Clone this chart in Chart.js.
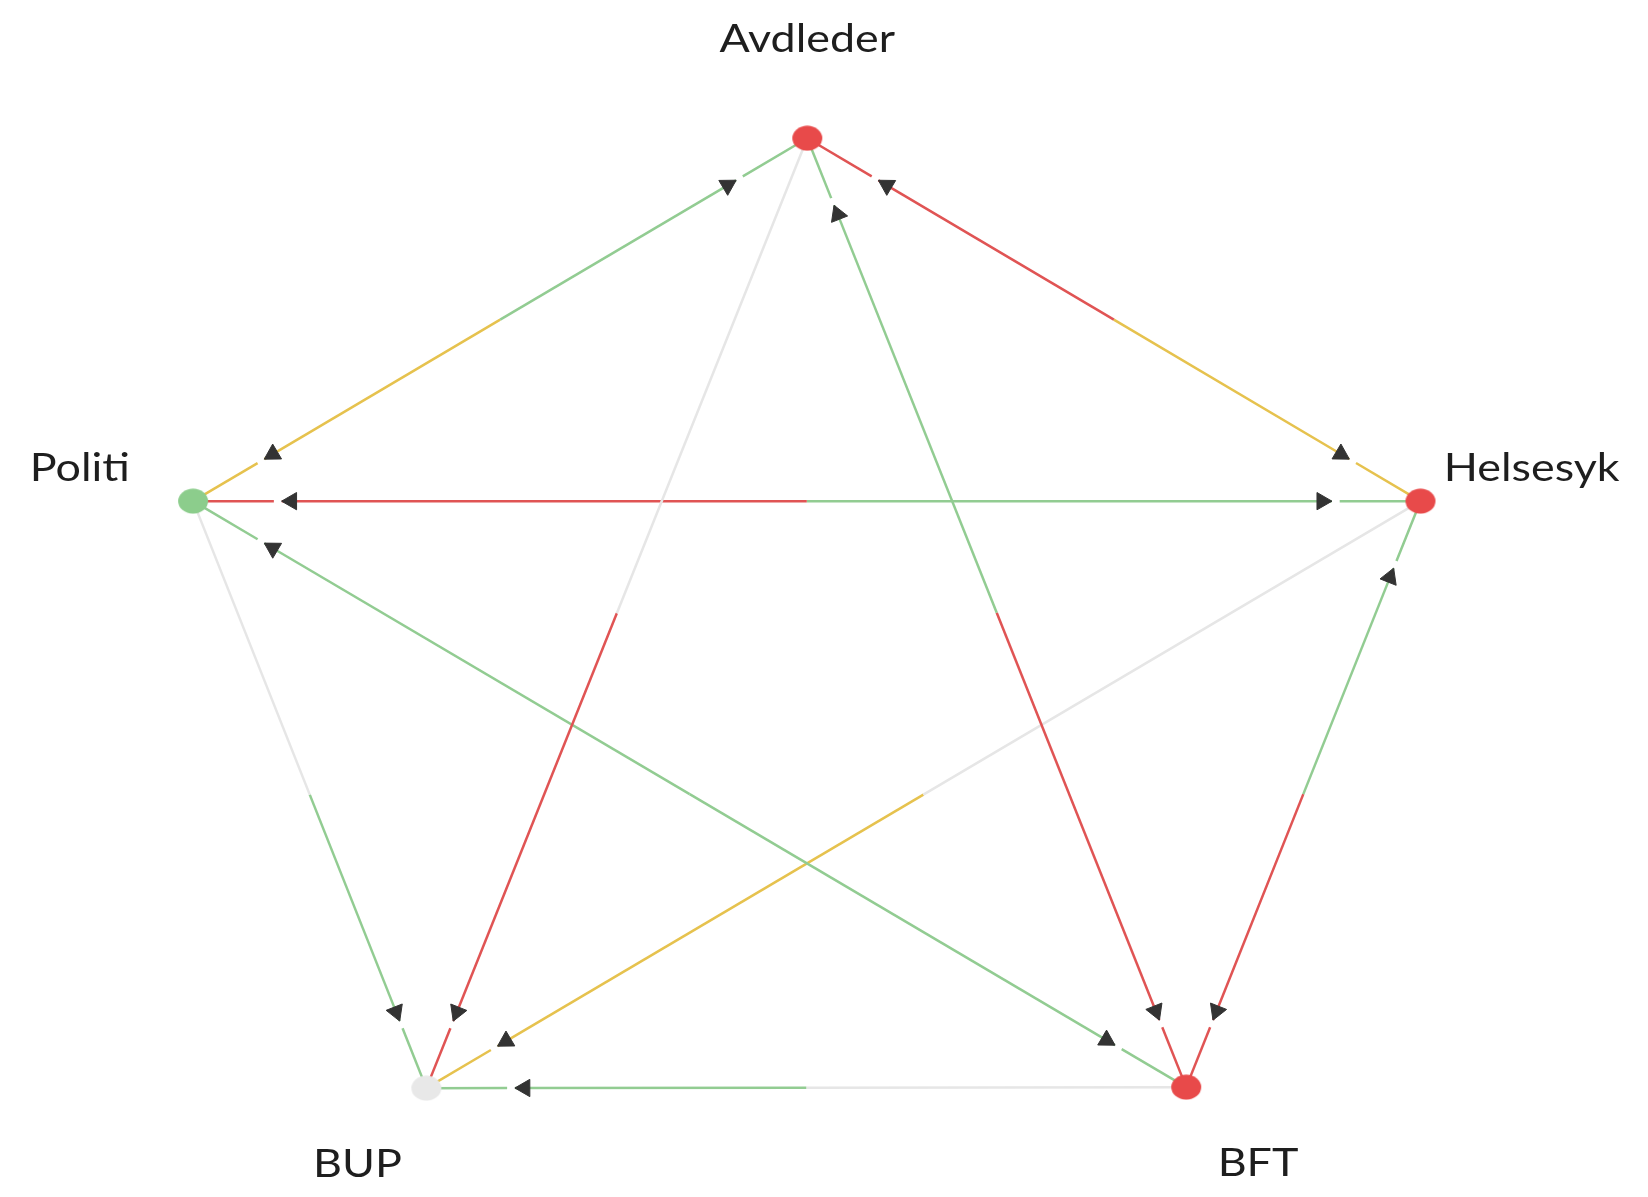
<!DOCTYPE html>
<html lang="no">
<head>
<meta charset="utf-8">
<script src="https://cdn.jsdelivr.net/npm/chart.js@4.4.0/dist/chart.umd.min.js"></script>
<style>
  html, body { margin: 0; padding: 0; background: #fff; }
  .wrap { width: 1648px; height: 1197px; position: relative; }
</style>
</head>
<body>
<div class="wrap"><canvas id="net"></canvas></div>
<script>
// nodes, in plot units (x/y scales run 0..1648 / 0..1197, y downward)
const nodeNames = ['Avdleder', 'Politi', 'Helsesyk', 'BUP', 'BFT'];
const nodeX = [807, 183, 1430, 420, 1192];
const nodeY = [128, 499, 499, 1099, 1098];
const nodeLevel = ['red', 'green', 'red', 'none', 'red'];

// edges: each pair is split in the middle, each half coloured by the link going into that end
const edgeFrom = ['Avdleder', 'Avdleder', 'Avdleder', 'Avdleder', 'Politi', 'Politi', 'Politi', 'Helsesyk', 'Helsesyk', 'BUP'];
const edgeTo = ['Politi', 'Helsesyk', 'BUP', 'BFT', 'Helsesyk', 'BUP', 'BFT', 'BUP', 'BFT', 'BFT'];
const levelAtFrom = ['green', 'red', 'none', 'green', 'red', 'none', 'green', 'none', 'green', 'green'];
const levelAtTo = ['yellow', 'yellow', 'red', 'red', 'green', 'green', 'green', 'yellow', 'red', 'none'];

const lineColors = { green: '#92cc92', yellow: '#e6c24e', red: '#e05454', none: '#e6e6e6' };
const nodeColors = { green: '#8ccd8c', red: '#e84a4a', none: '#e8e8e8' };

const ARROW_DIST = 82, STRETCH = 1.22, ARROW_R = 10, GAP = 8;

const datasets = [];
const arrowPts = [], arrowRot = [];

function idx(name) { return nodeNames.indexOf(name); }

// half edge from node a towards the middle of a-b
function addHalf(a, b, level) {
  const ax = nodeX[a], ay = nodeY[a];
  const dx = nodeX[b] - ax, dy = nodeY[b] - ay;
  const len = Math.hypot(dx, dy);
  const ux = dx / len, uy = dy / len;
  const mid = { x: ax + dx / 2, y: ay + dy / 2 };
  const seg = (pts) => datasets.push({
    type: 'scatter', showLine: true, data: pts, borderColor: lineColors[level],
    borderWidth: 2.5, pointRadius: 0, order: 3
  });
  if (level === 'none') {
    seg([{ x: ax, y: ay }, mid]);
    return;
  }
  const D = ARROW_DIST * len / Math.hypot(dx / STRETCH, dy);
  const at = (t) => ({ x: ax + ux * t, y: ay + uy * t });
  seg([{ x: ax, y: ay }, at(D - ARROW_R - GAP)]);
  seg([at(D - ARROW_R), mid]);
  arrowPts.push(at(D));
  arrowRot.push(Math.atan2(-ux, uy) * 180 / Math.PI);
}

edgeFrom.forEach((f, i) => {
  const a = idx(f), b = idx(edgeTo[i]);
  addHalf(a, b, levelAtFrom[i]);
  addHalf(b, a, levelAtTo[i]);
});

datasets.push({
  type: 'scatter', data: arrowPts, pointStyle: 'triangle', pointRotation: arrowRot,
  pointRadius: ARROW_R, backgroundColor: '#333', borderColor: '#333', borderWidth: 1, order: 2
});

// slightly wide dots, as in the original picture
function dot(color) {
  const c = document.createElement('canvas');
  c.width = 32; c.height = 26;
  const g = c.getContext('2d');
  g.fillStyle = color;
  g.beginPath();
  g.ellipse(16, 13, 15, 12.5, 0, 0, Math.PI * 2);
  g.fill();
  return c;
}

datasets.push({
  type: 'scatter', data: nodeX.map((x, i) => ({ x: x, y: nodeY[i] })),
  pointStyle: nodeLevel.map(l => dot(nodeColors[l])), pointRadius: 13,
  backgroundColor: nodeLevel.map(l => nodeColors[l]), borderWidth: 0, order: 1
});

const nodeLabels = {
  id: 'nodeLabels',
  afterDatasetsDraw(chart, args, opts) {
    const ctx = chart.ctx, xs = chart.scales.x, ys = chart.scales.y;
    ctx.save();
    ctx.fillStyle = '#1e1e1e';
    ctx.font = '38px Lato';
    ctx.textAlign = 'center';
    ctx.textBaseline = 'alphabetic';
    nodeNames.forEach((name, i) => {
      const off = opts.offsets[i];
      const px = xs.getPixelForValue(nodeX[i] + off[0]);
      const py = ys.getPixelForValue(nodeY[i] + off[1]);
      ctx.save();
      ctx.translate(px, py);
      ctx.scale(1.18, 1);
      ctx.fillText(name, 0, 0);
      ctx.restore();
    });
    ctx.restore();
  }
};

new Chart(document.getElementById('net'), {
  type: 'scatter',
  data: { datasets: datasets },
  options: {
    responsive: true,
    maintainAspectRatio: false,
    animation: false,
    events: [],
    layout: { padding: 0 },
    plugins: {
      legend: { display: false },
      tooltip: { enabled: false },
      nodeLabels: { offsets: [[0, -88], [-115, -21], [113, -21], [-70, 91], [73, 91]] }
    },
    scales: {
      x: { type: 'linear', min: 0, max: 1648, display: false },
      y: { type: 'linear', min: 0, max: 1197, reverse: true, display: false }
    }
  },
  plugins: [nodeLabels]
});
</script>
</body>
</html>
